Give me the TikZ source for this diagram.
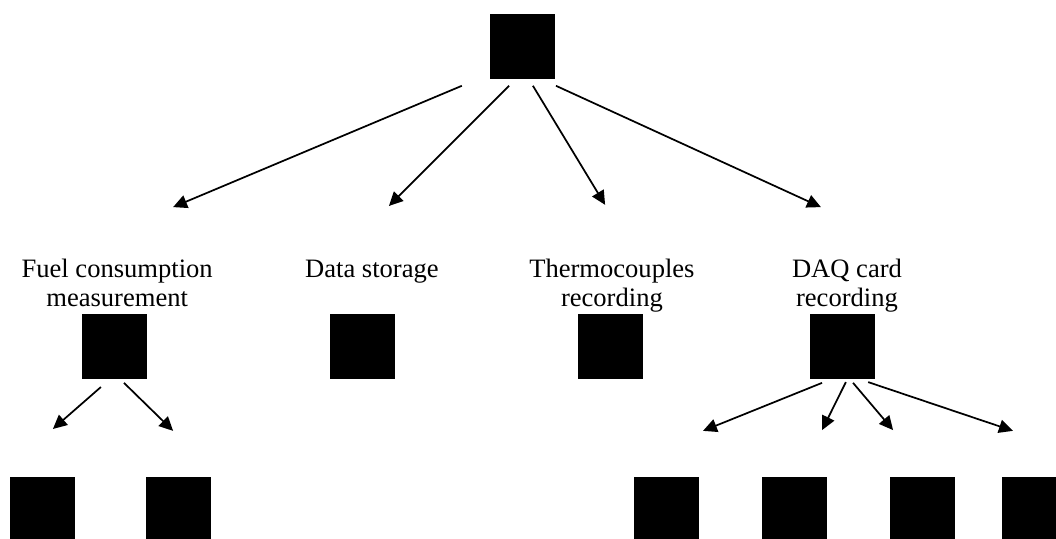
\documentclass[tikz,border=0pt]{standalone}
\usepackage{fontspec}
\setmainfont{Liberation Serif}
\usetikzlibrary{arrows.meta}

\begin{document}
\begin{tikzpicture}[
    blk/.style={fill=black, draw=none, minimum size=1.72cm, inner sep=0pt},
    lbl/.style={anchor=base, align=center, inner sep=0pt,
                font=\fontsize{20}{22.5}\selectfont},
    arr/.style={-{Triangle[length=10.5pt,width=10pt]}, line width=1.3pt}
  ]
\useasboundingbox (0,0) rectangle (27.94,14.26);
\clip (0,0) rectangle (27.94,14.26);

% ---------- Top ----------
\node[blk] (top) at (13.82,13.03) {};

\coordinate (s1) at (12.22,11.99);
\coordinate (s2) at (13.47,11.99);
\coordinate (s3) at (14.10,11.99);
\coordinate (s4) at (14.71,11.99);
\coordinate (e1) at (4.58,8.78);
\coordinate (e2) at (10.29,8.81);
\coordinate (e3) at (16.01,8.84);
\coordinate (e4) at (21.72,8.78);
\foreach \i in {1,...,4}
  \draw[arr] (s\i) -- (e\i);

% ---------- Middle ----------
% base = last line of the label
\node[lbl] (fuellbl)  at (3.10,6.14)  {Fuel consumption\\measurement};
\node[lbl] (datalbl)  at (9.84,6.93)  {Data storage};
\node[lbl] (thermlbl) at (16.19,6.14) {Thermocouples\\recording};
\node[lbl] (daqlbl)   at (22.41,6.14) {DAQ card\\recording};

\node[blk] (fuel)  at (3.03,5.09)  {};
\node[blk] (data)  at (9.59,5.09)  {};
\node[blk] (therm) at (16.15,5.09) {};
\node[blk] (daq)   at (22.30,5.09) {};

% ---------- Bottom ----------
\node[blk] (fuelA) at (1.12,0.78)  {};
\node[blk] (fuelB) at (4.72,0.78)  {};
\node[blk] (daqA)  at (17.63,0.78) {};
\node[blk] (daqB)  at (21.02,0.78) {};
\node[blk] (daqC)  at (24.41,0.78) {};
\node[blk] (daqD)  at (27.37,0.78) {};

\coordinate (fs1) at (2.67,4.02);
\coordinate (fs2) at (3.28,4.13);
\coordinate (fe1) at (1.40,2.91);
\coordinate (fe2) at (4.58,2.86);
\foreach \i in {1,2}
  \draw[arr] (fs\i) -- (fe\i);

\coordinate (ds1) at (21.75,4.13);
\coordinate (ds2) at (22.38,4.15);
\coordinate (ds3) at (22.57,4.13);
\coordinate (ds4) at (22.97,4.15);
\coordinate (de1) at (18.60,2.86);
\coordinate (de2) at (21.75,2.88);
\coordinate (de3) at (23.63,2.88);
\coordinate (de4) at (26.80,2.86);
\foreach \i in {1,...,4}
  \draw[arr] (ds\i) -- (de\i);

\end{tikzpicture}
\end{document}
